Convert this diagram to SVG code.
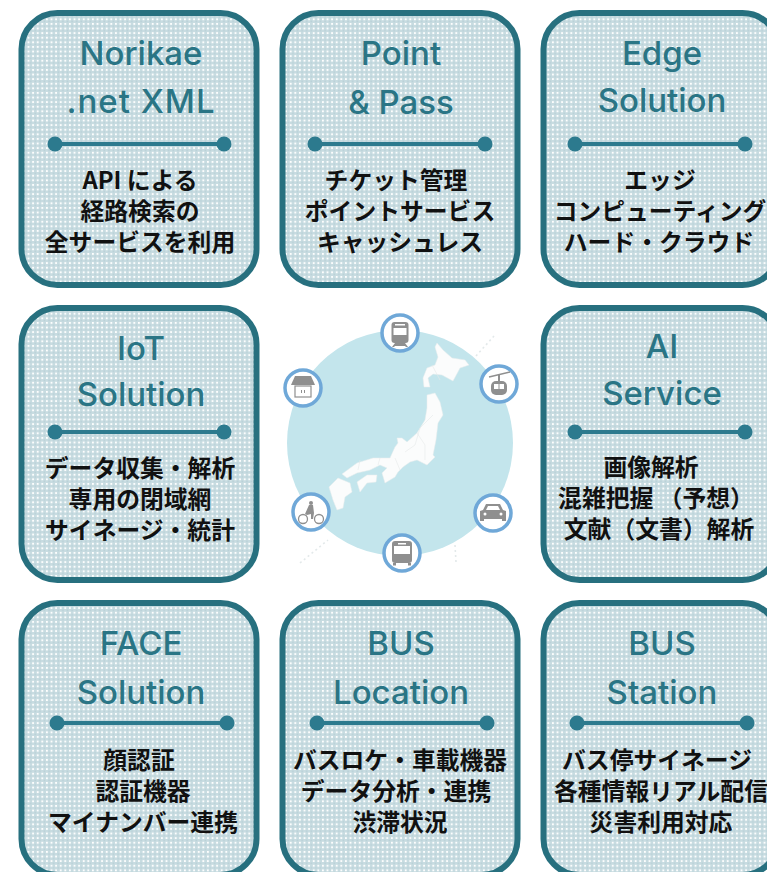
<svg xmlns="http://www.w3.org/2000/svg" width="767" height="872" viewBox="0 0 767 872">
<style>
.card{fill:url(#dots);stroke:#27707f;stroke-width:6}
.t{font-family:"Inter","Liberation Sans",sans-serif;font-size:33px;font-weight:500;fill:#2a7585;text-anchor:middle}
.b{font-family:"Noto Sans CJK JP","Noto Sans",sans-serif;font-size:23.800px;font-weight:700;fill:#111;text-anchor:middle}
.ln{stroke:#2c7a8e;stroke-width:4;fill:none}
.d{fill:#2c7a8e}
.ic{fill:#fff;stroke:#6fa8d8;stroke-width:3.500}
.g{fill:#8f8f8f}
.w{fill:#fff}
.map{fill:#fbfcfc;stroke:#e9eded;stroke-width:.5}
.isl{fill:none;stroke:#e3e9ea;stroke-width:1.600;stroke-dasharray:2 3}
</style>
<defs>
<pattern id="dots" width="4.600" height="4.600" patternUnits="userSpaceOnUse">
<rect width="4.600" height="4.600" fill="#c8dce1"/>
<rect x="0" y="0" width="1.800" height="1.800" fill="#fff"/>
<rect x="2.300" y="2.300" width="1.600" height="1.600" fill="#b8d0d8"/>
</pattern>
<filter id="soft" x="-5%" y="-5%" width="110%" height="110%"><feGaussianBlur stdDeviation="0.400"/></filter>
</defs>
<g id="card-norikae"><rect class="card" x="21.500" y="13" width="235" height="272" rx="36"/>
<text class="t" x="141" y="65">Norikae</text><text class="t" x="141" y="113" letter-spacing="1">.net XML</text>
<line class="ln" x1="55" y1="144" x2="224" y2="144"/><circle class="d" cx="55" cy="144" r="7.500"/><circle class="d" cx="224" cy="144" r="7.500"/>
<text class="b" x="140" y="189">API による</text><text class="b" x="140" y="220">経路検索の</text><text class="b" x="140" y="251">全サービスを利用</text></g>
<g id="card-point"><rect class="card" x="282.500" y="13" width="235" height="272" rx="36"/>
<text class="t" x="401" y="65">Point</text><text class="t" x="401" y="114">&amp; Pass</text>
<line class="ln" x1="315" y1="144" x2="485" y2="144"/><circle class="d" cx="315" cy="144" r="7.500"/><circle class="d" cx="485" cy="144" r="7.500"/>
<text class="b" x="396" y="189">チケット管理</text><text class="b" x="400" y="220">ポイントサービス</text><text class="b" x="400" y="251">キャッシュレス</text></g>
<g id="card-edge"><rect class="card" x="543.500" y="13" width="235" height="272" rx="36"/>
<text class="t" x="662" y="65">Edge</text><text class="t" x="662" y="112">Solution</text>
<line class="ln" x1="575" y1="144" x2="745" y2="144"/><circle class="d" cx="575" cy="144" r="7.500"/><circle class="d" cx="745" cy="144" r="7.500"/>
<text class="b" x="660" y="189">エッジ</text><text class="b" x="660" y="220">コンピューティング</text><text class="b" x="659" y="251">ハード・クラウド</text></g>
<g id="card-iot"><rect class="card" x="21.500" y="308" width="235" height="272" rx="36"/>
<text class="t" x="141" y="360">IoT</text><text class="t" x="141" y="406">Solution</text>
<line class="ln" x1="55" y1="432" x2="224" y2="432"/><circle class="d" cx="55" cy="432" r="7.500"/><circle class="d" cx="224" cy="432" r="7.500"/>
<text class="b" x="140" y="477">データ収集・解析</text><text class="b" x="140" y="508">専用の閉域網</text><text class="b" x="140" y="539">サイネージ・統計</text></g>
<g id="card-ai"><rect class="card" x="543.500" y="308" width="235" height="272" rx="36"/>
<text class="t" x="662" y="358">AI</text><text class="t" x="662" y="405">Service</text>
<line class="ln" x1="575" y1="432" x2="745" y2="432"/><circle class="d" cx="575" cy="432" r="7.500"/><circle class="d" cx="745" cy="432" r="7.500"/>
<text class="b" x="651" y="476">画像解析</text><text class="b" x="656" y="507">混雑把握 （予想）</text><text class="b" x="659" y="538">文献（文書）解析</text></g>
<g id="card-face"><rect class="card" x="21.500" y="603" width="235" height="272" rx="36"/>
<text class="t" x="141" y="655">FACE</text><text class="t" x="141" y="704">Solution</text>
<line class="ln" x1="57" y1="723" x2="227" y2="723"/><circle class="d" cx="57" cy="723" r="7.500"/><circle class="d" cx="227" cy="723" r="7.500"/>
<text class="b" x="139" y="769">顔認証</text><text class="b" x="143" y="800">認証機器</text><text class="b" x="143" y="831">マイナンバー連携</text></g>
<g id="card-bus-location"><rect class="card" x="282.500" y="603" width="235" height="272" rx="36"/>
<text class="t" x="401" y="655">BUS</text><text class="t" x="401" y="704">Location</text>
<line class="ln" x1="317" y1="723" x2="487" y2="723"/><circle class="d" cx="317" cy="723" r="7.500"/><circle class="d" cx="487" cy="723" r="7.500"/>
<text class="b" x="400" y="769">バスロケ・車載機器</text><text class="b" x="396" y="800">データ分析・連携</text><text class="b" x="400" y="831">渋滞状況</text></g>
<g id="card-bus-station"><rect class="card" x="543.500" y="603" width="235" height="272" rx="36"/>
<text class="t" x="662" y="655">BUS</text><text class="t" x="662" y="704">Station</text>
<line class="ln" x1="577" y1="723" x2="747" y2="723"/><circle class="d" cx="577" cy="723" r="7.500"/><circle class="d" cx="747" cy="723" r="7.500"/>
<text class="b" x="657" y="769">バス停サイネージ</text><text class="b" x="661" y="800">各種情報リアル配信</text><text class="b" x="661" y="831">災害利用対応</text></g>
<g id="japan-map">
<circle cx="400" cy="443" r="113" fill="#c3e5ec"/>
<g filter="url(#soft)">
<path class="isl" d="M476 356L494 336M300 563L328 540M455 545L456 562"/>
<path class="map" d="M437 343L443 350L452 358L465 360L469 365L460 368L453 381L442 375L433 374L428 378L430 387L424 387L423 378L427 368L435 365L438 357L435 347Z"/>
<path class="map" d="M427 395L435 393L440 402L443 415L438 423L436 440L433 455L435 457L427 465L417 460L410 462L403 467L398 472L395 477L385 483L382 473L387 468L380 465L370 470L357 473L347 478L342 474L357 463L373 458L390 458L395 447L398 443L397 438L402 438L407 442L417 433L425 420L427 408Z"/>
<path class="map" d="M357 482L367 475L377 475L376 482L367 483L360 492Z"/>
<path class="map" d="M338 478L350 483L352 492L345 497L343 508L337 510L333 500L329 487Z"/>
<path fill="none" stroke="#e6eaea" stroke-width=".6" d="M433 415L420 428L415 445L405 452M395 458L400 470M417 433L425 445L425 460M380 458L378 465M360 460L358 470M440 380L432 365"/>
</g>
</g>
<g id="icon-train"><circle class="ic" cx="400" cy="333" r="18"/><rect class="g" x="391.500" y="322" width="17" height="21" rx="3"/><rect class="w" x="393.500" y="328" width="13" height="7"/><rect class="w" x="395" y="324" width="10" height="1.500"/><path class="g" d="M392 347l3-4h10l3 4h-2l-1-1h-10l-1 1z"/></g>
<g id="icon-ropeway"><circle class="ic" cx="499" cy="384" r="18"/><path d="M489 377l21-5" stroke="#8f8f8f" stroke-width="1.500"/><rect class="g" x="498" y="374" width="2" height="8"/><rect class="g" x="491" y="381" width="16" height="14" rx="5"/><rect class="w" x="494" y="384" width="4.500" height="5"/><rect class="w" x="499.500" y="384" width="4.500" height="5"/></g>
<g id="icon-shop"><circle class="ic" cx="303" cy="388" r="18"/><path class="g" d="M295 376h16l4 9h-24z"/><rect x="295" y="386" width="16" height="11" fill="#fff" stroke="#8f8f8f" stroke-width="1.200"/><path d="M301.500 390v3M304.500 390v3" stroke="#8f8f8f"/></g>
<g id="icon-car"><circle class="ic" cx="493" cy="513" r="18"/><path class="g" d="M486 504h14l3 6 3 1v10h-4v-2h-18v2h-4v-10l3-1z"/><path class="w" d="M488 506h10l2 4h-14z"/><circle class="w" cx="485" cy="514" r="1.500"/><circle class="w" cx="501" cy="514" r="1.500"/></g>
<g id="icon-bus"><circle class="ic" cx="402" cy="553" r="18"/><rect class="g" x="392" y="541" width="20" height="22" rx="3"/><rect class="w" x="394" y="546" width="16" height="8"/><rect class="w" x="398" y="543" width="8" height="1.500"/><rect class="g" x="393" y="563" width="3" height="2.500"/><rect class="g" x="408" y="563" width="3" height="2.500"/></g>
<g id="icon-bicycle"><circle class="ic" cx="311" cy="512" r="18"/><circle cx="303" cy="519" r="4.500" fill="none" stroke="#8f8f8f" stroke-width="1.300"/><circle cx="319" cy="519" r="4.500" fill="none" stroke="#8f8f8f" stroke-width="1.300"/><circle class="g" cx="311" cy="503" r="2"/><path class="g" d="M309 505h4l1 8-1 6h-2l0-5-4 1-2-1z"/></g>
</svg>
